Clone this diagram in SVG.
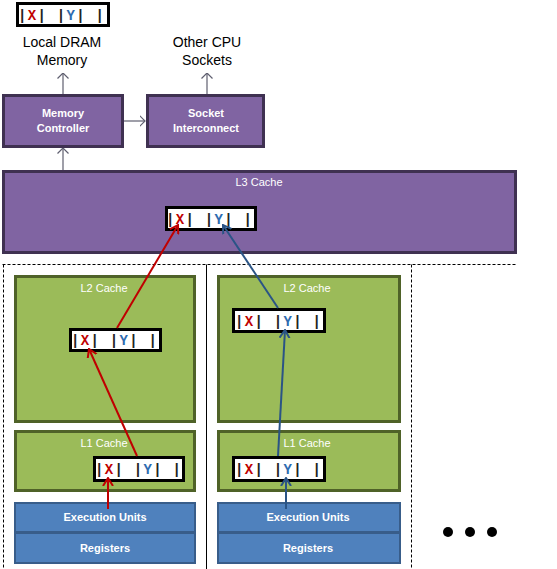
<svg xmlns="http://www.w3.org/2000/svg" width="557" height="569" viewBox="0 0 557 569">
<defs>
<style>
.purple{fill:#8064a2;stroke:#3f3151;stroke-width:3}
.green{fill:#9bbb59;stroke:#4f6228;stroke-width:3}
.blue{fill:#4f81bd;stroke:#385d8a;stroke-width:2}
.line{fill:#fff;stroke:#000;stroke-width:3}
.lbl{font-family:"Liberation Sans",Arial,sans-serif;font-size:11px;fill:#fff;text-anchor:middle}
.bold{font-weight:bold}
.ext{font-family:"Liberation Sans",Arial,sans-serif;font-size:14px;fill:#000;text-anchor:middle}
.mono{font-family:"Liberation Mono","DejaVu Sans Mono",monospace;font-size:14px;font-weight:bold;letter-spacing:1.3px;fill:#222}
.x{fill:#c00000}
.y{fill:#2e6bb0}
.dash{fill:none;stroke:#000;stroke-width:1;stroke-dasharray:3,2}
.gray{fill:none;stroke:#5f5f6f;stroke-width:1.2}
.red{fill:none;stroke:#c00000;stroke-width:2}
.navy{fill:none;stroke:#2a5486;stroke-width:2}
</style>
<marker id="ag" viewBox="0 0 6 12" refX="5.5" refY="6" markerWidth="6" markerHeight="12" markerUnits="userSpaceOnUse" orient="auto"><path d="M0,0.5 L5.5,6 L0,11.5" fill="none" stroke="#5f5f6f" stroke-width="1.2"/></marker>
<marker id="ar" viewBox="0 0 9 12" refX="8" refY="6" markerWidth="9" markerHeight="12" markerUnits="userSpaceOnUse" orient="auto"><path d="M0,1 L8,6 L0,11" fill="none" stroke="#c00000" stroke-width="2"/></marker>
<marker id="ab" viewBox="0 0 9 12" refX="8" refY="6" markerWidth="9" markerHeight="12" markerUnits="userSpaceOnUse" orient="auto"><path d="M0,1 L8,6 L0,11" fill="none" stroke="#2a5486" stroke-width="2"/></marker>
</defs>

<g id="boundaries">
<path class="dash" d="M2.5,264.5 H517 M3.5,264.5 V569 M411.5,264.5 V569"/>
<path d="M206.5,264.5 V569" fill="none" stroke="#000" stroke-width="1"/>
</g>

<g id="dram-line">
<rect class="line" x="17.5" y="3.5" width="91" height="22"/>
<text class="mono" x="18" y="20">|<tspan class="x">X</tspan>| |<tspan class="y">Y</tspan>| |</text>
</g>
<g id="local-dram">
<text class="ext" x="62" y="47">Local DRAM</text>
<text class="ext" x="62" y="65">Memory</text>
</g>
<g id="other-cpu">
<text class="ext" x="207" y="47">Other CPU</text>
<text class="ext" x="207" y="65">Sockets</text>
</g>

<g id="memory-controller">
<rect class="purple" x="3.5" y="95.5" width="119" height="51"/>
<text class="lbl bold" x="63" y="117">Memory</text>
<text class="lbl bold" x="63" y="132">Controller</text>
</g>
<g id="socket-interconnect">
<rect class="purple" x="147.5" y="95.5" width="116" height="51"/>
<text class="lbl bold" x="206" y="117">Socket</text>
<text class="lbl bold" x="206" y="132">Interconnect</text>
</g>

<g id="l3-cache">
<rect class="purple" x="3.5" y="171.5" width="512" height="81"/>
<text class="lbl" x="259" y="186">L3 Cache</text>
<rect class="line" x="166.5" y="207.5" width="89" height="22"/>
<text class="mono" x="166" y="224">|<tspan class="x">X</tspan>| |<tspan class="y">Y</tspan>| |</text>
</g>

<g id="core1-l2">
<rect class="green" x="15.5" y="276.5" width="179" height="145"/>
<text class="lbl" x="104" y="292">L2 Cache</text>
<rect class="line" x="70.5" y="329.5" width="90" height="21"/>
<text class="mono" x="71" y="345">|<tspan class="x">X</tspan>| |<tspan class="y">Y</tspan>| |</text>
</g>
<g id="core1-l1">
<rect class="green" x="15.5" y="431.5" width="179" height="59"/>
<text class="lbl" x="104" y="447">L1 Cache</text>
<rect class="line" x="94.5" y="457.5" width="89" height="23"/>
<text class="mono" x="95" y="474">|<tspan class="x">X</tspan>| |<tspan class="y">Y</tspan>| |</text>
</g>
<g id="core1-exec">
<rect class="blue" x="15" y="503" width="180" height="29"/>
<text class="lbl bold" x="105" y="521">Execution Units</text>
</g>
<g id="core1-registers">
<rect class="blue" x="15" y="533" width="180" height="30"/>
<text class="lbl bold" x="105" y="552">Registers</text>
</g>

<g id="core2-l2">
<rect class="green" x="218.5" y="276.5" width="181" height="145"/>
<text class="lbl" x="307" y="292">L2 Cache</text>
<rect class="line" x="233.5" y="309.5" width="91" height="22"/>
<text class="mono" x="235" y="326">|<tspan class="x">X</tspan>| |<tspan class="y">Y</tspan>| |</text>
</g>
<g id="core2-l1">
<rect class="green" x="218.5" y="431.5" width="181" height="59"/>
<text class="lbl" x="307" y="447">L1 Cache</text>
<rect class="line" x="233.5" y="457.5" width="91" height="23"/>
<text class="mono" x="235" y="474">|<tspan class="x">X</tspan>| |<tspan class="y">Y</tspan>| |</text>
</g>
<g id="core2-exec">
<rect class="blue" x="218" y="503" width="182" height="29"/>
<text class="lbl bold" x="308" y="521">Execution Units</text>
</g>
<g id="core2-registers">
<rect class="blue" x="218" y="533" width="182" height="30"/>
<text class="lbl bold" x="308" y="552">Registers</text>
</g>

<g id="more-cores">
<circle cx="448" cy="532" r="5" fill="#000"/>
<circle cx="470" cy="532" r="5" fill="#000"/>
<circle cx="492" cy="532" r="5" fill="#000"/>
</g>

<g id="connectors">
<line class="gray" x1="63" y1="94" x2="63" y2="73" marker-end="url(#ag)"/>
<line class="gray" x1="207" y1="94" x2="207" y2="73" marker-end="url(#ag)"/>
<line class="gray" x1="124" y1="121" x2="145" y2="121" marker-end="url(#ag)"/>
<line class="gray" x1="63" y1="170" x2="63" y2="148" marker-end="url(#ag)"/>
<line class="red" x1="108" y1="509" x2="108" y2="478" marker-end="url(#ar)"/>
<line class="red" x1="137" y1="456" x2="89" y2="349" marker-end="url(#ar)"/>
<line class="red" x1="117" y1="328" x2="178" y2="225" marker-end="url(#ar)"/>
<line class="navy" x1="286" y1="509" x2="286" y2="478" marker-end="url(#ab)"/>
<line class="navy" x1="278" y1="456" x2="285" y2="330" marker-end="url(#ab)"/>
<line class="navy" x1="278" y1="308" x2="223" y2="225" marker-end="url(#ab)"/>
</g>
</svg>
